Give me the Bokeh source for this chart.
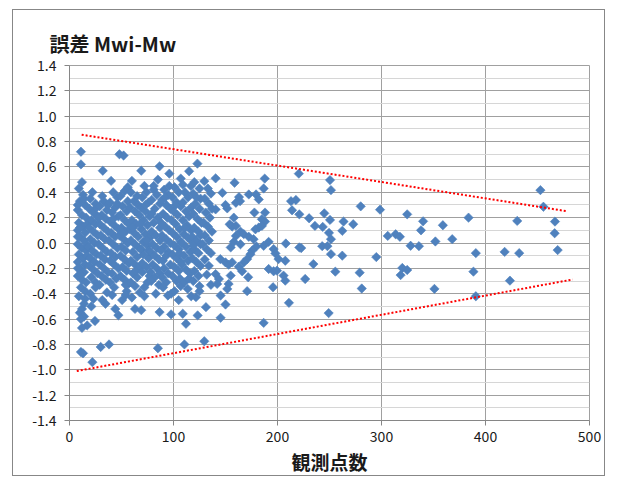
from math import pi

from bokeh.embed import file_html
from bokeh.models import FixedTicker, PrintfTickFormatter, Title
from bokeh.plotting import figure
from bokeh.resources import INLINE

# Error of the estimated magnitude (Mwi - Mw) against the number of observing stations.
# Dense part of the cloud (few stations)
dense_count = [
    11, 11, 12, 9, 13, 10, 15, 8, 12, 16,
    9, 13, 8, 15, 10, 14, 8, 12, 16, 9,
    13, 8, 15, 10, 14, 8, 12, 16, 11, 15,
    9, 15, 12, 10, 14, 11, 17, 12, 11, 13,
    8, 14, 10, 17, 8, 17, 8, 17, 11, 14,
    22, 20, 25, 19, 23, 27, 21, 25, 19, 23,
    27, 20, 24, 18, 22, 26, 20, 24, 19, 23,
    27, 21, 25, 25, 20, 23, 21, 24.5, 22, 26,
    32, 31.5, 33, 29, 36, 31, 35, 29, 33, 37,
    30, 34, 28, 32, 36, 30, 34, 29, 33, 37,
    31, 35, 29, 36, 31.5, 34.6, 30, 38, 37, 28,
    40, 48, 42, 46, 39, 44, 41, 47, 39, 43,
    47, 40, 44, 38, 42, 46, 40, 44, 39, 43,
    47, 41, 45, 39, 43, 41, 44, 47, 46, 42,
    52, 53, 49, 56, 51, 55, 49, 53, 57, 50,
    54, 48, 52, 56, 50, 54, 49, 53, 57, 51,
    55, 49, 53, 57, 55, 50.6, 54, 56, 51, 54,
    60, 62, 59, 65, 58, 63, 67, 60, 64, 58,
    62, 66, 59, 63, 67, 61, 65, 59, 63, 67,
    61, 65, 59, 63, 67.5, 60, 63, 66, 61, 64,
    69, 72, 74, 70, 76, 69, 73, 77, 71, 75,
    69, 73, 77, 71, 75, 69, 71, 76, 70, 74,
    70, 75, 72, 69, 77, 73, 68, 76, 74, 72,
    86.6, 85, 81, 84, 79, 87, 82, 79, 85, 81,
    87, 79, 83, 87, 80, 84, 78, 82, 86, 80,
    84, 78, 82, 78.6, 86, 86.6, 85, 83, 81, 87,
    96, 91, 95, 89, 93, 97, 90, 94, 88, 92,
    96, 89, 93, 97, 91, 95, 89.8, 93, 97, 91,
    95, 89, 93, 94.6, 97.7, 97.7, 90, 96, 92, 88,
    107, 101, 105, 99, 103, 107, 100, 104, 98, 102,
    106, 99, 103, 107, 101, 105, 99, 103, 107, 101,
    105, 99, 103, 107, 101, 105, 108.9, 102, 106, 106,
    115, 116.8, 111, 114, 109, 117, 112, 115, 109, 113,
    117, 110, 114, 108, 112, 116, 110, 114, 108, 112,
    116, 110.5, 113.7, 117, 112, 110.5, 109, 115, 111, 117,
    123, 120, 125, 119, 126, 121, 125, 119, 123, 127,
    120, 124, 118, 122, 126, 120, 124, 118, 122, 126,
    120, 124, 119, 125, 121.6, 123.2, 125, 122, 126, 119,
    129.6, 133, 136, 130, 134, 137, 131, 135, 129, 133,
    137, 130, 134, 128, 132, 136, 130, 134, 132, 131.2,
    129.6, 136,
]
dense_error = [
    0.72, 0.62, 0.48, 0.43, 0.38, 0.33, 0.30, 0.26, 0.22, 0.20,
    0.16, 0.13, 0.10, 0.08, 0.05, 0.02, -0.01, -0.04, -0.06, -0.09,
    -0.12, -0.15, -0.17, -0.20, -0.23, -0.26, -0.29, -0.31, -0.35, -0.38,
    -0.42, -0.44, -0.52, -0.55, -0.58, -0.60, -0.65, -0.67, -0.86, -0.87,
    0.30, 0.35, 0.12, 0.15, 0.05, -0.02, -0.20, -0.10, -0.25, -0.48,
    0.40, 0.35, 0.31, 0.27, 0.24, 0.21, 0.18, 0.15, 0.12, 0.09,
    0.06, 0.03, 0.00, -0.03, -0.06, -0.09, -0.12, -0.15, -0.18, -0.21,
    -0.24, -0.27, -0.31, -0.35, -0.40, -0.44, -0.50, -0.615, -0.94, 0.28,
    0.57, 0.37, 0.33, 0.29, 0.26, 0.22, 0.19, 0.15, 0.12, 0.09,
    0.06, 0.03, -0.01, -0.04, -0.07, -0.10, -0.13, -0.17, -0.20, -0.23,
    -0.26, -0.29, -0.33, -0.39, -0.45, -0.48, -0.82, -0.80, 0.30, 0.20,
    0.49, 0.70, 0.40, 0.36, 0.32, 0.28, 0.24, 0.21, 0.17, 0.14,
    0.11, 0.08, 0.05, 0.02, -0.01, -0.04, -0.08, -0.11, -0.14, -0.17,
    -0.20, -0.24, -0.28, -0.31, -0.35, -0.41, -0.52, -0.57, 0.31, 0.19,
    0.69, 0.41, 0.37, 0.33, 0.29, 0.25, 0.22, 0.18, 0.15, 0.12,
    0.09, 0.06, 0.03, 0.00, -0.03, -0.06, -0.10, -0.13, -0.16, -0.19,
    -0.22, -0.26, -0.29, -0.32, -0.38, -0.45, -0.41, 0.44, 0.08, -0.33,
    0.49, 0.33, 0.40, 0.37, 0.28, 0.25, 0.22, 0.18, 0.15, 0.11,
    0.08, 0.05, 0.02, -0.01, -0.04, -0.07, -0.11, -0.14, -0.17, -0.20,
    -0.24, -0.27, -0.31, -0.34, -0.39, -0.43, -0.52, 0.30, 0.12, -0.22,
    0.57, 0.45, 0.40, 0.36, 0.32, 0.28, 0.25, 0.21, 0.18, 0.14,
    0.11, 0.07, 0.04, 0.01, -0.02, -0.05, -0.09, -0.12, -0.16, -0.19,
    -0.23, -0.31, -0.35, -0.53, -0.26, 0.30, 0.15, -0.06, 0.02, -0.42,
    0.605, 0.50, 0.42, 0.38, 0.34, 0.31, 0.27, 0.23, 0.20, 0.16,
    0.12, 0.09, 0.06, 0.02, -0.01, -0.04, -0.07, -0.10, -0.13, -0.17,
    -0.20, -0.23, -0.27, -0.30, -0.33, -0.545, -0.83, -0.40, 0.45, -0.24,
    0.547, 0.42, 0.38, 0.34, 0.30, 0.27, 0.23, 0.20, 0.16, 0.13,
    0.10, 0.06, 0.03, 0.00, -0.03, -0.07, -0.14, -0.10, -0.17, -0.20,
    -0.24, -0.27, -0.31, -0.414, -0.40, -0.563, -0.35, 0.45, 0.36, -0.06,
    0.508, 0.44, 0.40, 0.36, 0.32, 0.29, 0.25, 0.22, 0.18, 0.15,
    0.11, 0.08, 0.05, 0.01, -0.02, -0.05, -0.09, -0.12, -0.15, -0.19,
    -0.22, -0.26, -0.30, -0.34, -0.38, -0.45, -0.558, 0.30, -0.08, -0.28,
    0.566, 0.449, 0.40, 0.36, 0.32, 0.28, 0.25, 0.21, 0.18, 0.14,
    0.10, 0.07, 0.04, 0.00, -0.03, -0.07, -0.10, -0.14, -0.17, -0.21,
    -0.24, -0.31, -0.362, -0.42, -0.637, -0.80, 0.46, -0.28, 0.12, 0.02,
    0.626, 0.48, 0.43, 0.39, 0.35, 0.31, 0.27, 0.23, 0.19, 0.16,
    0.12, 0.09, 0.05, 0.02, -0.01, -0.05, -0.08, -0.12, -0.15, -0.18,
    -0.22, -0.26, -0.30, -0.34, -0.427, -0.571, -0.38, 0.36, 0.06, -0.02,
    0.488, 0.43, 0.39, 0.35, 0.31, 0.27, 0.24, 0.20, 0.16, 0.13,
    0.09, 0.06, 0.02, -0.01, -0.05, -0.08, -0.13, -0.18, -0.25, -0.506,
    -0.775, -0.33,
]

# Thinner middle part (about 140 to 236 stations)
mid_count = [
    220.5, 187.7, 158.7, 186.7, 140.5, 147, 163, 164, 160, 172.4,
    179.4, 182, 150, 151.7, 140.5, 177.8, 188, 213, 217.7, 214,
    221, 230.4, 158, 154, 156.4, 160, 185, 188, 182, 185,
    178.8, 164.4, 167.6, 160, 172.4, 177, 158, 164.4, 155, 191.5,
    186.7, 179.7, 208, 221, 222.8, 175.6, 174, 170.8, 196.3, 198,
    201, 207.5, 167.6, 145, 150, 153, 156.4, 162.8, 166, 191.5,
    196.3, 199.5, 205.8, 207.5, 140.5, 143.7, 142, 155, 153, 171.8,
    195.7, 170.8, 151.7, 145.3, 211, 150, 145.3, 186.7, 236, 234.5,
]
mid_error = [
    0.547, 0.508, 0.475, 0.43, 0.51, 0.396, 0.362, 0.33, 0.317, 0.383,
    0.383, 0.344, 0.30, 0.273, 0.265, 0.24, 0.24, 0.33, 0.339, 0.258,
    0.226, 0.195, 0.20, 0.147, 0.13, 0.135, 0.187, 0.169, 0.122, 0.135,
    0.108, 0.09, 0.07, 0.056, 0.049, 0.03, 0.009, -0.01, -0.035, 0.009,
    -0.022, -0.027, -0.004, -0.035, -0.04, -0.06, -0.088, -0.127, -0.048, -0.082,
    -0.127, -0.14, -0.153, -0.127, -0.153, -0.171, -0.153, -0.187, -0.223, -0.205,
    -0.223, -0.218, -0.257, -0.297, -0.245, -0.284, -0.323, -0.257, -0.323, -0.27,
    -0.349, -0.38, -0.362, -0.414, -0.472, -0.485, -0.59, -0.63, 0.135, -0.166,
]

# Sparse part (many stations)
far_count = [
    250.5, 251.4, 280, 298.6, 243.5, 245, 250.5, 249.5, 251.4, 243,
    248, 251.4, 262.3, 263.5, 262.3, 272.8, 255.6, 279, 281, 249.2,
    295, 306, 313.6, 317.7, 324.7, 340, 338, 359, 351.8, 368,
    328, 336, 320, 318.4, 324.7, 350.9, 383.7, 390.7, 388.4, 390.7,
    418.4, 432.4, 430.5, 423.5, 452.8, 455.7, 466.8, 466.5, 469.4, 226.6,
]
far_error = [
    0.496, 0.417, 0.289, 0.263, 0.127, 0.234, 0.182, 0.08, 0.03, -0.025,
    -0.025, -0.088, -0.10, 0.169, 0.096, 0.148, -0.226, -0.234, -0.359, -0.553,
    -0.111, 0.056, 0.069, 0.049, 0.226, 0.171, 0.10, 0.14, 0.012, 0.03,
    -0.022, -0.025, -0.197, -0.253, -0.213, -0.362, 0.20, -0.08, -0.226, -0.42,
    -0.07, -0.08, 0.174, -0.297, 0.417, 0.286, 0.169, 0.077, -0.056, -0.284,
]

# Envelope lines
upper_count = [11.7, 478.9]
upper_error = [0.854, 0.25]
lower_count = [7, 483.7]
lower_error = [-1.01, -0.288]

x_ticks = [0, 100, 200, 300, 400, 500]
y_ticks = [-1.4, -1.2, -1.0, -0.8, -0.6, -0.4, -0.2, 0.0, 0.2, 0.4, 0.6, 0.8, 1.0, 1.2, 1.4]
y_minor = [-1.3, -1.1, -0.9, -0.7, -0.5, -0.3, -0.1, 0.1, 0.3, 0.5, 0.7, 0.9, 1.1, 1.3]

FONT = "Noto Sans CJK JP"
BLUE = "#4F81BD"

p = figure(
    width=593, height=467,
    x_range=(0, 500), y_range=(-1.4, 1.4),
    output_backend="svg", toolbar_location=None,
    min_border_left=56, min_border_right=17,
    min_border_top=55, min_border_bottom=53,
    background_fill_color="white", border_fill_color="white",
    title="誤差 Mwi-Mw",
)
p.margin = (9, 0, 0, 12)
p.styles = {"border": "1px solid #878787"}

p.title.text_font = FONT
p.title.text_font_size = "20px"
p.title.text_font_style = "bold"
p.title.text_color = "#1a1a1a"
p.title.align = "left"
p.title.offset = -20

# blank gap between the heading and the plot frame (first panel sits next to the frame)
gap = Title(text=" ", text_font_size="1px", standoff=0)
p.above = [gap] + list(p.above)

p.outline_line_color = "#a0a0a0"

p.xgrid.ticker = FixedTicker(ticks=x_ticks)
p.xgrid.grid_line_color = "#a0a0a0"
p.ygrid.ticker = FixedTicker(ticks=y_ticks, minor_ticks=y_minor)
p.ygrid.grid_line_color = "#a0a0a0"
p.ygrid.minor_grid_line_color = "#d6d6d6"

for ax in (p.xaxis, p.yaxis):
    ax.axis_line_color = "#868686"
    ax.major_tick_line_color = "#868686"
    ax.major_tick_out = 5
    ax.major_tick_in = 0
    ax.minor_tick_out = 0
    ax.minor_tick_in = 0
    ax.major_label_text_font = FONT
    ax.major_label_text_font_size = "14px"
    ax.major_label_text_color = "#1a1a1a"

p.xaxis.ticker = FixedTicker(ticks=x_ticks)
p.yaxis.ticker = FixedTicker(ticks=y_ticks)
p.yaxis.formatter = PrintfTickFormatter(format="%.1f")
p.yaxis.major_label_standoff = 8
p.xaxis.major_label_standoff = 5

p.xaxis.axis_label = "観測点数"
p.xaxis.axis_label_text_font = FONT
p.xaxis.axis_label_text_font_size = "19px"
p.xaxis.axis_label_text_font_style = "bold"
p.xaxis.axis_label_text_color = "#1a1a1a"
p.xaxis.axis_label_standoff = 3

for xs, ys in ((dense_count, dense_error), (mid_count, mid_error), (far_count, far_error)):
    p.scatter(xs, ys, marker="square", angle=pi / 4, size=6.6,
              fill_color=BLUE, line_color=BLUE, line_width=0.6)

p.line(upper_count, upper_error, line_color="#FF0000", line_width=2, line_dash="2 2")
p.line(lower_count, lower_error, line_color="#FF0000", line_width=2, line_dash="2 2")

open("out.html", "w").write(file_html(p, INLINE))
